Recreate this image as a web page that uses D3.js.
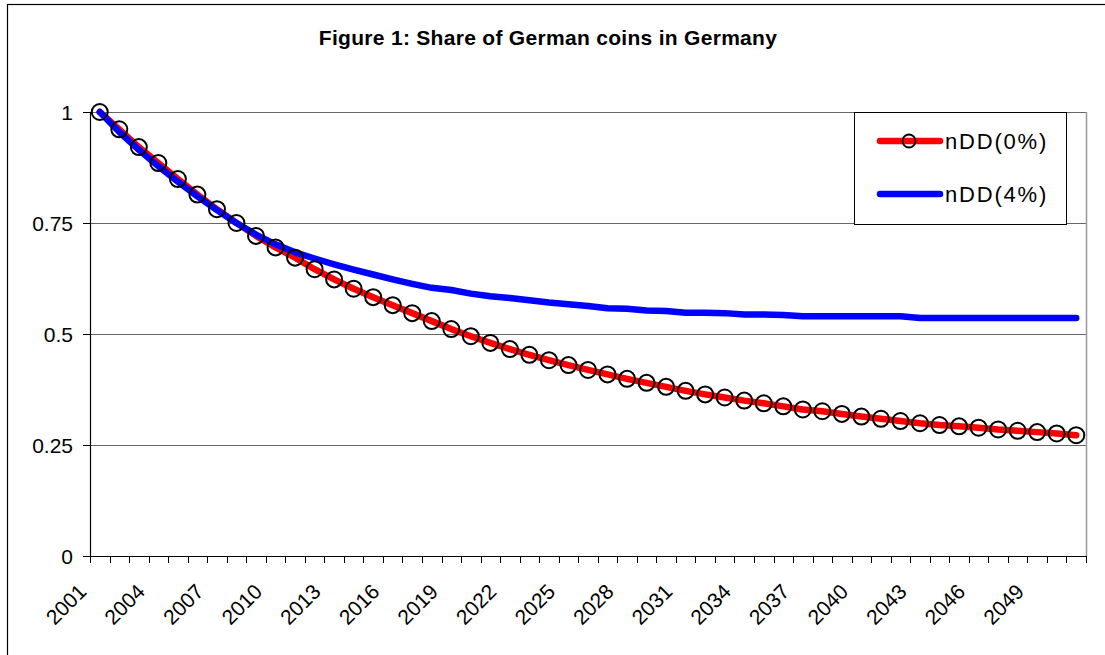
<!DOCTYPE html>
<html>
<head>
<meta charset="utf-8">
<script src="https://cdn.jsdelivr.net/npm/d3@7"></script>
<style>
  html, body { margin: 0; padding: 0; background: #fff; }
  svg { display: block; }
</style>
</head>
<body>
<div id="chart"></div>
<script>
const years = d3.range(2001, 2052);
const nDD0 = [
  1.000, 0.961, 0.921, 0.885, 0.849, 0.814, 0.781, 0.750, 0.721, 0.695,
  0.672, 0.646, 0.623, 0.602, 0.583, 0.565, 0.547, 0.529, 0.511, 0.495,
  0.480, 0.466, 0.453, 0.441, 0.430, 0.419, 0.409, 0.399, 0.390, 0.381,
  0.372, 0.364, 0.357, 0.350, 0.344, 0.337, 0.330, 0.326, 0.320, 0.314,
  0.309, 0.304, 0.299, 0.295, 0.292, 0.289, 0.285, 0.282, 0.279, 0.276,
  0.272
];
const nDD4 = [
  1.000, 0.955, 0.915, 0.878, 0.843, 0.810, 0.779, 0.750, 0.724, 0.702,
  0.684, 0.670, 0.657, 0.645, 0.634, 0.623, 0.613, 0.604, 0.599, 0.591,
  0.585, 0.581, 0.576, 0.571, 0.567, 0.563, 0.558, 0.557, 0.553, 0.552,
  0.548, 0.548, 0.547, 0.544, 0.544, 0.543, 0.540, 0.540, 0.540, 0.540,
  0.540, 0.540, 0.536, 0.536, 0.536, 0.536, 0.536, 0.536, 0.536, 0.536,
  0.536
];
const yTicks = [0, 0.25, 0.5, 0.75, 1];
const yTickLabels = ['0', '0.25', '0.5', '0.75', '1'];
const labelYears = years.filter((y, i) => i % 3 === 0 && y <= 2049);
const title = 'Figure 1: Share of German coins in Germany';
const seriesNames = ['nDD(0%)', 'nDD(4%)'];

const W = 1105, H = 655;
const FONT = 'Arial, "Liberation Sans", sans-serif';
const plot = { left: 90, right: 1086, top: 112, bottom: 556 };

const svg = d3.select('#chart').append('svg').attr('width', W).attr('height', H);

// chart border (only top/left inside the picture)
svg.append('rect').attr('x', 7.5).attr('y', 4.5).attr('width', 1200).attr('height', 800)
  .attr('fill', '#fff').attr('stroke', '#000').attr('stroke-width', 1.2);

svg.append('text').attr('x', 548).attr('y', 45).attr('text-anchor', 'middle')
  .attr('font-family', FONT).attr('font-size', 21).attr('font-weight', 'bold')
  .attr('letter-spacing', 0.3)
  .text(title);

const x = d3.scaleBand().domain(years).range([plot.left, plot.right]);
const cx = d => x(d) + x.bandwidth() / 2;
const y = d3.scaleLinear().domain([0, 1]).range([plot.bottom, plot.top]);

// gridlines
svg.append('g').selectAll('line').data(yTicks.filter(t => t > 0)).enter().append('line')
  .attr('x1', plot.left).attr('x2', plot.right)
  .attr('y1', d => Math.round(y(d)) + 0.5).attr('y2', d => Math.round(y(d)) + 0.5)
  .attr('stroke', '#666').attr('stroke-width', 1.2);

// right border of plot area
svg.append('line').attr('x1', plot.right + 0.5).attr('x2', plot.right + 0.5)
  .attr('y1', plot.top).attr('y2', plot.bottom)
  .attr('stroke', '#999').attr('stroke-width', 1.5);

// y axis
const yAxis = svg.append('g');
yAxis.append('line').attr('x1', plot.left + 0.5).attr('x2', plot.left + 0.5)
  .attr('y1', plot.top).attr('y2', plot.bottom).attr('stroke', '#000').attr('stroke-width', 1.2);
yTicks.forEach((t, i) => {
  const py = Math.round(y(t)) + 0.5;
  yAxis.append('line').attr('x1', plot.left - 7).attr('x2', plot.left)
    .attr('y1', py).attr('y2', py).attr('stroke', '#000');
  yAxis.append('text').attr('x', plot.left - 17).attr('y', py + 7.5)
    .attr('text-anchor', 'end').attr('font-family', FONT).attr('font-size', 21)
    .text(yTickLabels[i]);
});

// x axis
const xAxis = svg.append('g');
xAxis.append('line').attr('x1', plot.left).attr('x2', plot.right)
  .attr('y1', plot.bottom + 0.5).attr('y2', plot.bottom + 0.5).attr('stroke', '#000').attr('stroke-width', 1.2);
years.concat([null]).forEach(yr => {
  const px = Math.round(yr === null ? plot.right : x(yr)) + 0.5;
  xAxis.append('line').attr('x1', px).attr('x2', px)
    .attr('y1', plot.bottom).attr('y2', plot.bottom + 7).attr('stroke', '#000');
});
labelYears.forEach(yr => {
  const ax = cx(yr) - 12, ay = plot.bottom + 37;
  xAxis.append('text').attr('transform', `translate(${ax},${ay}) rotate(-45)`)
    .attr('text-anchor', 'end').attr('font-family', FONT).attr('font-size', 21)
    .text(yr);
});

// series
const line = d3.line().x((d, i) => cx(years[i])).y(d => y(d)).curve(d3.curveLinear);
svg.append('path').datum(nDD0).attr('d', line)
  .attr('fill', 'none').attr('stroke', '#ff0000').attr('stroke-width', 6.5)
  .attr('stroke-linecap', 'round').attr('stroke-linejoin', 'round');
svg.append('path').datum(nDD4).attr('d', line)
  .attr('fill', 'none').attr('stroke', '#0000ff').attr('stroke-width', 6.5)
  .attr('stroke-linecap', 'round').attr('stroke-linejoin', 'round');
svg.append('g').selectAll('circle').data(nDD0).enter().append('circle')
  .attr('cx', (d, i) => cx(years[i])).attr('cy', d => y(d)).attr('r', 8)
  .attr('fill', 'none').attr('stroke', '#000').attr('stroke-width', 2);

// legend
const lg = svg.append('g');
lg.append('rect').attr('x', 854.5).attr('y', 112.5).attr('width', 212).attr('height', 112)
  .attr('fill', '#fff').attr('stroke', '#000');
[{ c: '#ff0000', y: 141, marker: true }, { c: '#0000ff', y: 194, marker: false }].forEach((s, i) => {
  lg.append('line').attr('x1', 880).attr('x2', 940).attr('y1', s.y).attr('y2', s.y)
    .attr('stroke', s.c).attr('stroke-width', 6.5).attr('stroke-linecap', 'round');
  if (s.marker) lg.append('circle').attr('cx', 909).attr('cy', s.y).attr('r', 6.5)
    .attr('fill', 'none').attr('stroke', '#000').attr('stroke-width', 1.8);
  lg.append('text').attr('x', 945).attr('y', s.y + 8)
    .attr('font-family', FONT).attr('font-size', 22).attr('letter-spacing', 1.8)
    .text(seriesNames[i]);
});
</script>
</body>
</html>
